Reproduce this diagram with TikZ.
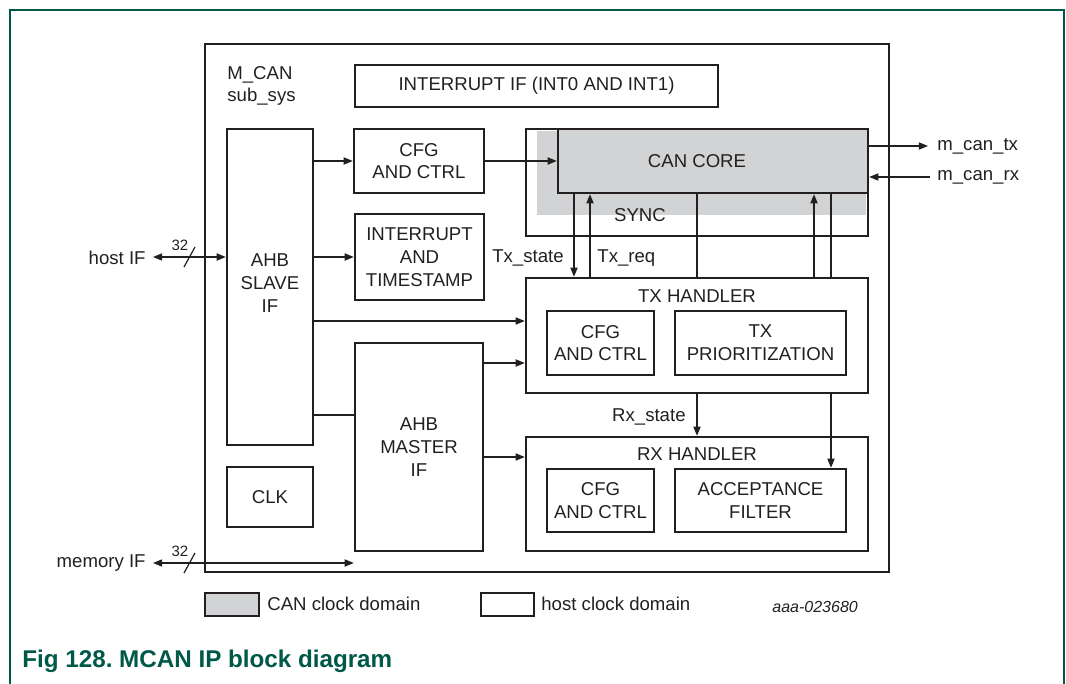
\documentclass[tikz,border=0pt]{standalone}
\usepackage{fontspec}
\setmainfont{Liberation Sans}
\usetikzlibrary{arrows.meta,fit}
\definecolor{nxpgreen}{RGB}{0,88,72}
\definecolor{canGrey}{RGB}{209,211,212}
\definecolor{ink}{RGB}{35,31,32}
\frenchspacing
\begin{document}
\begin{tikzpicture}[x=0.5pt,y=-0.5pt,
  font=\fontsize{9.3}{11.4}\selectfont,
  every node/.style={text=ink,inner sep=0pt},
  box/.style={draw=ink,line width=1.2pt,inner sep=0pt},
  lbl/.style={align=center},
  arr/.style={draw=ink,line width=0.6pt,-{Triangle[length=4.6pt,width=3.6pt]}},
  bus/.style={draw=ink,line width=0.6pt,{Triangle[length=4.6pt,width=3.6pt]}-{Triangle[length=4.6pt,width=3.6pt]}},
  ln/.style={draw=ink,line width=0.6pt},
  small/.style={font=\fontsize{7.5}{9}\selectfont}]
\useasboundingbox (0,0) rectangle (1066,684);
\draw[nxpgreen,line width=0.8pt] (10,684) -- (10,10) -- (1064,10) -- (1064,684);

% main block
\node[box,fit={(205,44)(889,572)}] (mcan) {};
\node[anchor=west,align=left] (mcanlbl) at (227,86) {M\_CAN\\sub\_sys};
\node[box,fit={(355,65)(718,107)}] (intif) {};
\node[lbl] at (intif.center) {INTERRUPT IF (INT0 AND INT1)};
\node[box,fit={(227,129)(313,445)}] (ahbs) {};
\node[lbl] at ([yshift=2pt]ahbs.center) {AHB\\SLAVE\\IF};
\node[box,fit={(354,129)(484,193)}] (cfg) {};
\node[lbl] at (cfg.center) {CFG\\AND CTRL};
\node[box,fit={(355,214)(484,300)}] (its) {};
\node[lbl] at (its.center) {INTERRUPT\\AND\\TIMESTAMP};
\node[box,fit={(526,129)(868,236)}] (sync) {};
\fill[canGrey] (537,131) rectangle (866,215);
\node[box,fill=canGrey,fit={(558,129)(868,193)}] (core) {};
\node (corelbl) at (697,161) {CAN CORE};
\node (synclbl) at (640,215) {SYNC};
\node[box,fit={(526,278)(868,393)}] (tx) {};
\node (txlbl) at (697,296) {TX HANDLER};
\node[box,fit={(547,311)(654,375)}] (txcfg) {};
\node[lbl] at (txcfg.center) {CFG\\AND CTRL};
\node[box,fit={(675,311)(846,375)}] (txpri) {};
\node[lbl] at (txpri.center) {TX\\PRIORITIZATION};
\node[box,fit={(526,437)(868,551)}] (rx) {};
\node (rxlbl) at (697,454) {RX HANDLER};
\node[box,fit={(547,469)(654,532)}] (rxcfg) {};
\node[lbl] at (rxcfg.center) {CFG\\AND CTRL};
\node[box,fit={(675,469)(846,532)}] (acc) {};
\node[lbl] at (acc.center) {ACCEPTANCE\\FILTER};
\node[box,fit={(355,343)(483,551)}] (ahbm) {};
\node[lbl] at (ahbm.center) {AHB\\MASTER\\IF};
\node[box,fit={(227,467)(313,527)}] (clk) {};
\node[lbl] at (clk.center) {CLK};

% internal connectors
\draw[arr] (ahbs.east |- cfg.west) -- (cfg.west);
\draw[arr] (cfg.east) -- (core.west |- cfg.east);
\draw[arr] (ahbs.east |- its.west) -- (its.west);
\draw[arr] (ahbs.east |- 0,321) -- (tx.west |- 0,321);
\draw[ln] (ahbs.east |- 0,415) -- (ahbm.west |- 0,415);
\draw[arr] (ahbm.east |- 0,363) -- (tx.west |- 0,363);
\draw[arr] (ahbm.east |- 0,457) -- (rx.west |- 0,457);

\draw[arr] (core.south -| 574,0) -- (tx.north -| 574,0);
\node[anchor=east] (txstate) at (564,258) {Tx\_state};
\draw[arr] (tx.north -| 590,0) -- (core.south -| 590,0);
\node[anchor=west] (txreq) at (597,258) {Tx\_req};
\draw[ln] (core.south -| 697,0) -- (tx.north -| 697,0);
\draw[arr] (tx.north -| 814,0) -- (core.south -| 814,0);
\draw[ln] (core.south -| 831,0) -- (tx.north -| 831,0);
\draw[arr] (tx.south -| 831,0) -- (acc.north -| 831,0);
\draw[arr] (tx.south -| 697,0) -- (rx.north -| 697,0);
\node[anchor=east] (rxstate) at (686,417) {Rx\_state};

% external interfaces
\node[anchor=east] (hostif) at (146,258) {host IF};
\coordinate (hostend) at (153,257);
\draw[bus] (hostend) -- (ahbs.west |- hostend);
\draw[ln] ([shift={(31,10)}]hostend) -- ([shift={(42,-10)}]hostend);
\node[small] (n32a) at (180,245) {32};

\node[anchor=east] (memif) at (146,563) {memory IF};
\coordinate (memend) at (153,563);
\draw[bus] (memend) -- (ahbm.west |- memend);
\draw[ln] ([shift={(31,10)}]memend) -- ([shift={(42,-10)}]memend);
\node[small] (n32b) at (180,551) {32};

\node[anchor=west] (mtx) at (937,146) {m\_can\_tx};
\node[anchor=west] (mrx) at (937,177) {m\_can\_rx};
\draw[arr] (core.east |- 0,146) -- (928,146);
\draw[arr] (930,177) -- (core.east |- 0,177);

% legend
\node[box,fill=canGrey,fit={(205,593)(259,616)}] (lgg) {};
\node[anchor=west] (lggt) at (267,604) {CAN clock domain};
\node[box,fit={(481,593)(534,616)}] (lgw) {};
\node[anchor=west] (lgwt) at (541,604) {host clock domain};
\node[anchor=west,font=\fontsize{8}{9}\selectfont\itshape] (figid) at (772,607) {aaa-023680};

\node[anchor=west,text=nxpgreen,font=\fontsize{12.1}{14}\selectfont\bfseries] (caption) at (22,661) {Fig 128. MCAN IP block diagram};
\end{tikzpicture}
\end{document}
